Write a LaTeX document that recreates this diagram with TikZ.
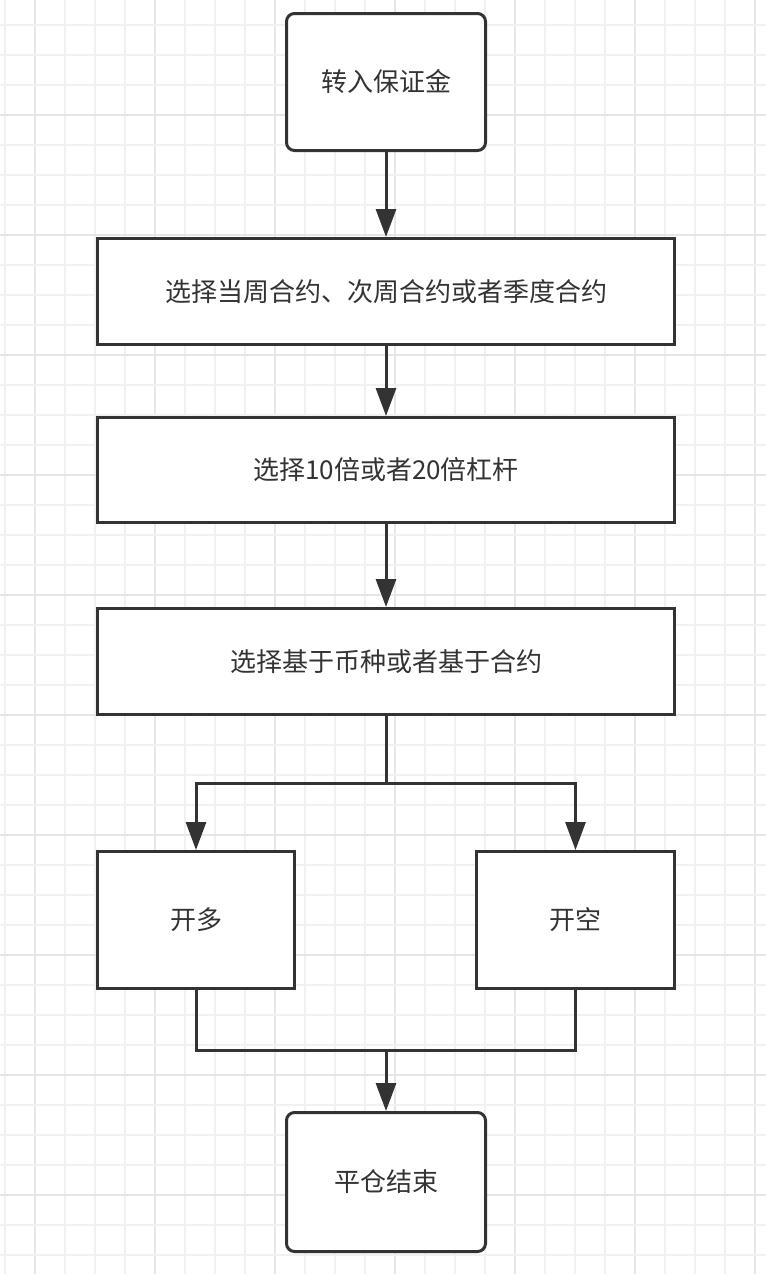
\documentclass[tikz,border=0pt]{standalone}
\usepackage{fontspec}
\setmainfont{Noto Sans CJK SC}
\usetikzlibrary{arrows.meta}
\definecolor{ink}{HTML}{333333}
\definecolor{txt}{HTML}{333333}
\definecolor{gridminor}{HTML}{F1F1F1}
\definecolor{gridmajor}{HTML}{E6E6E6}
\begin{document}
\begin{tikzpicture}[x=1pt,y=-1pt,
  box/.style={draw=ink,line width=3pt,fill=white,text=txt,font=\fontsize{26}{30}\selectfont,inner sep=0pt},
  rbox/.style={box,rounded corners=8pt},
  arr/.style={draw=ink,line width=3pt,-{Triangle[length=28pt,width=20pt]}},
  conn/.style={draw=ink,line width=3pt}]
\fill[white] (0,0) rectangle (766,1274);
\useasboundingbox (0,0) rectangle (766,1274);
% grid
\foreach \k in {0,...,25}{
  \pgfmathtruncatemacro{\xx}{5+30*\k}
  \pgfmathtruncatemacro{\mm}{mod(\k+3,4)}
  \ifnum\mm=0 \draw[gridmajor,line width=1.2pt] (\xx,0) -- (\xx,1274);
  \else \draw[gridminor,line width=1.2pt] (\xx,0) -- (\xx,1274); \fi
}
\foreach \k in {0,...,41}{
  \pgfmathtruncatemacro{\yy}{25+30*\k}
  \pgfmathtruncatemacro{\mm}{mod(\k+1,4)}
  \ifnum\mm=0 \draw[gridmajor,line width=1.2pt] (0,\yy) -- (766,\yy);
  \else \draw[gridminor,line width=1.2pt] (0,\yy) -- (766,\yy); \fi
}
% nodes
\node[rbox,minimum width=199pt,minimum height=137pt] (b1) at (386,82) {转入保证金};
\node[box,minimum width=577pt,minimum height=106pt] (b2) at (386,291.5) {选择当周合约、次周合约或者季度合约};
\node[box,minimum width=577pt,minimum height=105pt] (b3) at (386,470) {选择10倍或者20倍杠杆};
\node[box,minimum width=577pt,minimum height=106pt] (b4) at (386,661.5) {选择基于币种或者基于合约};
\node[box,minimum width=197pt,minimum height=137pt] (b5) at (196,920) {开多};
\node[box,minimum width=198pt,minimum height=137pt] (b6) at (575.5,920) {开空};
\node[rbox,minimum width=199pt,minimum height=139pt] (b7) at (386,1182) {平仓结束};
% connectors
\coordinate (j1) at (386,783);
\coordinate (j2) at (386,1050);
\draw[arr] (b1) -- (b2);
\draw[arr] (b2) -- (b3);
\draw[arr] (b3) -- (b4);
\draw[conn] (b4.south) -- (j1);
\draw[arr] (j1) -| (b5.north);
\draw[arr] (j1) -| (b6.north);
\draw[conn] (b5.south) |- (j2);
\draw[conn] (b6.south) |- (j2);
\draw[arr] (j2) -- (b7.north);
\end{tikzpicture}
\end{document}
